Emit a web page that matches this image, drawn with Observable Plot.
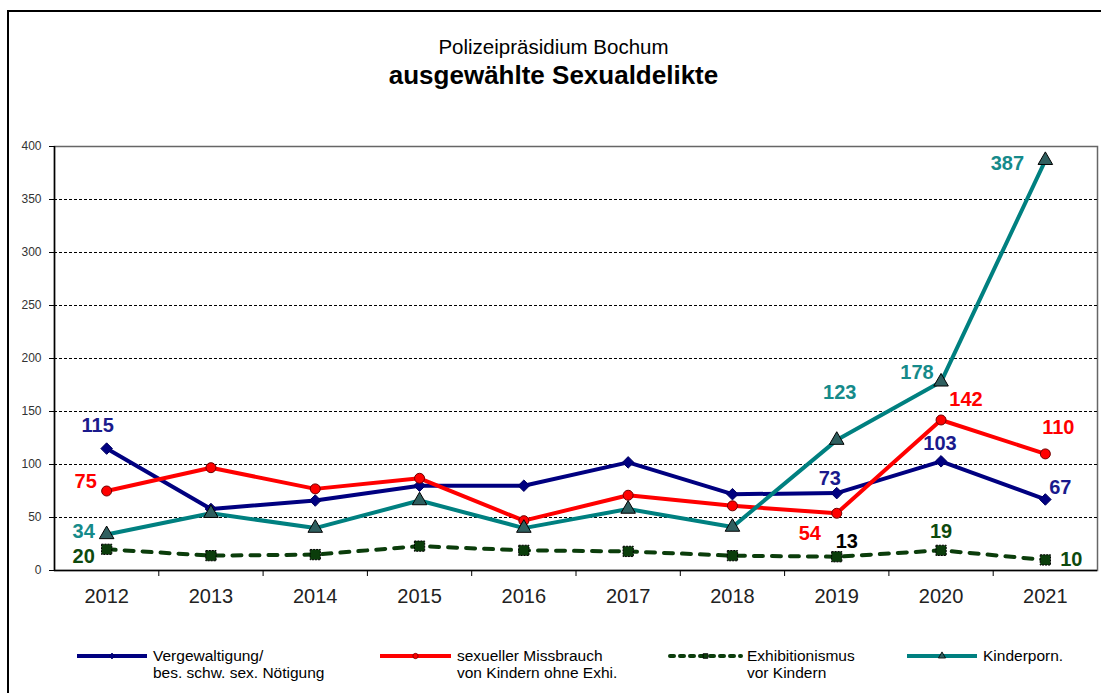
<!DOCTYPE html>
<html><head><meta charset="utf-8">
<script src="https://cdn.jsdelivr.net/npm/d3@7"></script>
<script src="https://cdn.jsdelivr.net/npm/@observablehq/plot@0.6"></script>
<style>
html,body{margin:0;padding:0;background:#fff}
body{width:1101px;height:693px;overflow:hidden;position:relative;font-family:"Liberation Sans",Arial,sans-serif}
#chart{position:absolute;left:0;top:0}
#frame{position:absolute;left:7px;top:10px;width:1200px;height:800px;border:2px solid #000;pointer-events:none}
.title{position:absolute;left:0;width:1107px;text-align:center;color:#000;white-space:nowrap}
#t1{top:35px;font-size:20.5px;line-height:24px}
#t2{top:60px;font-size:26px;line-height:30px;font-weight:bold}
.leg{position:absolute;top:647px;font-size:15.5px;line-height:17px;color:#000;white-space:pre}
.legsw{position:absolute;top:648px}
</style></head>
<body>
<div id="chart"></div>
<div class="title" id="t1">Polizeipräsidium Bochum</div>
<div class="title" id="t2">ausgewählte Sexualdelikte</div>
<div id="legend"></div>
<div id="frame"></div>
<script>
// ---- data ----
const years = [2012, 2013, 2014, 2015, 2016, 2017, 2018, 2019, 2020, 2021];
const vergewaltigung = [115, 58, 66, 80, 80, 102, 72, 73, 103, 67];
const missbrauch = [75, 97, 77, 87, 47, 71, 61, 54, 142, 110];
const exhibitionismus = [20, 14, 15, 23, 19, 18, 14, 13, 19, 10];
const kinderporn = [34, 54, 40, 66, 40, 58, 41, 123, 178, 387];
const seriesKeys = ["v", "m", "e", "k"];
const seriesNames = [
  "Vergewaltigung/\nbes. schw. sex. Nötigung",
  "sexueller Missbrauch\nvon Kindern ohne Exhi.",
  "Exhibitionismus\nvor Kindern",
  "Kinderporn."
];
const yTicks = [0, 50, 100, 150, 200, 250, 300, 350, 400];
// points that carry a value label: [series, year]
const labelled = [
  ["v", 2012], ["m", 2012], ["k", 2012], ["e", 2012],
  ["k", 2019], ["k", 2020], ["k", 2021],
  ["m", 2019], ["m", 2020], ["m", 2021],
  ["v", 2019], ["v", 2020], ["v", 2021],
  ["e", 2019], ["e", 2020], ["e", 2021]
];

// ---- styles ----
const values = {v: vergewaltigung, m: missbrauch, e: exhibitionismus, k: kinderporn};
const style = {
  v: {stroke: "#000080", symbol: "diamond2", r: 5.2, fill: "#000080", mstroke: "#000060", label: "#1a1a8c"},
  m: {stroke: "#ff0000", symbol: "circle", r: 5, fill: "#ff0000", mstroke: "#700000", label: "#ff0000"},
  e: {stroke: "#0b3d0b", symbol: "square", r: 5.8, fill: "#0b3d0b", mstroke: "#000", label: "#0e4a0e", dash: "9,9"},
  k: {stroke: "#008080", symbol: "triangle", r: 5.4, fill: "#2f5f5f", mstroke: "#000", label: "#158a8a"}
};
const labelOffsets = {
  "v2012": [-9, -23], "m2012": [-21, -9], "k2012": [-23, -3], "e2012": [-23, 7],
  "k2019": [3, -48], "k2020": [-24, -9], "k2021": [-38, 3],
  "m2019": [-27, 20], "m2020": [25, -20], "m2021": [13, -26],
  "v2019": [-7, -15], "v2020": [-1, -18], "v2021": [15, -12],
  "e2019": [10, -15], "e2020": [0, -19], "e2021": [26, 0]
};
const labelColorOverride = {"e2019": "#000"};

const rows = [];
for (const s of ["v", "m", "e", "k"]) years.forEach((y, i) => rows.push({s, year: y, value: values[s][i]}));

const seriesMarks = [];
for (const s of ["v", "m", "e", "k"]) {
  const st = style[s];
  const d = rows.filter(r => r.s === s);
  seriesMarks.push(Plot.line(d, {x: "year", y: "value", stroke: st.stroke, strokeWidth: 4,
    strokeDasharray: st.dash, strokeLinecap: st.dash ? "round" : "butt", strokeLinejoin: "miter"}));
  seriesMarks.push(Plot.dot(d, {x: "year", y: "value", symbol: st.symbol, r: st.r,
    fill: st.fill, stroke: st.mstroke, strokeWidth: 1, strokeDasharray: s === "e" ? "2,1" : null}));
}

const labelMarks = labelled.map(([s, y]) => {
  const key = s + y;
  const [dx, dy] = labelOffsets[key];
  const d = rows.filter(r => r.s === s && r.year === y);
  return Plot.text(d, {x: "year", y: "value", text: r => String(r.value), dx, dy,
    fill: labelColorOverride[key] || style[s].label, fontWeight: "bold", fontSize: 20,
    fontFamily: "Liberation Sans, Arial, sans-serif"});
});

const chart = Plot.plot({
  width: 1101, height: 693,
  marginLeft: 54, marginRight: 4, marginTop: 146, marginBottom: 123,
  style: {background: "transparent", fontFamily: "Liberation Sans, Arial, sans-serif"},
  x: {type: "linear", domain: [2011.5, 2021.5]},
  y: {domain: [0, 400]},
  marks: [
    Plot.frame({stroke: "#666", strokeWidth: 1.5}),
    Plot.ruleY(yTicks.filter(t => t > 0 && t < 400), {stroke: "#000", strokeWidth: 1, strokeDasharray: "3,2"}),
    Plot.axisY({ticks: yTicks, tickSize: 5, tickPadding: 8, tickFormat: d => String(d), fontSize: 12,
      fill: "#333", stroke: "#000", label: null, style: {letterSpacing: "1px"}}),
    Plot.axisX({ticks: years.slice(0, -1).map(y => y + 0.5), tickSize: 6, tickFormat: () => "", label: null, stroke: "#000"}),
    Plot.axisX({ticks: years, tickSize: 0, tickPadding: 18, tickFormat: d => String(d), fontSize: 20, fill: "#222", label: null}),
    Plot.ruleX([2011.5], {stroke: "#000", strokeWidth: 1.5}),
    Plot.ruleY([0], {stroke: "#000", strokeWidth: 1.5}),
    ...seriesMarks,
    ...labelMarks
  ]
});
document.getElementById("chart").appendChild(chart);

// ---- legend ----
const legendPos = [[77, 153], [380, 457], [670, 747], [907, 983]];
const legend = document.getElementById("legend");
seriesKeys.forEach((s, i) => {
  const st = style[s];
  const [sx, tx] = legendPos[i];
  const w = tx - sx - 6;
  const svgNS = "http://www.w3.org/2000/svg";
  const svg = document.createElementNS(svgNS, "svg");
  svg.setAttribute("width", w + 4); svg.setAttribute("height", 16);
  svg.setAttribute("class", "legsw");
  svg.style.left = (sx - 2) + "px";
  const sel = d3.select(svg);
  sel.append("line").attr("x1", 2).attr("x2", w + 2).attr("y1", 8).attr("y2", 8)
    .attr("stroke", st.stroke).attr("stroke-width", 4)
    .attr("stroke-dasharray", st.dash ? "4,6" : null).attr("stroke-linecap", st.dash ? "round" : "butt");
  const sym = {diamond2: d3.symbolDiamond2, circle: d3.symbolCircle, square: d3.symbolSquare, triangle: d3.symbolTriangle}[st.symbol];
  sel.append("path").attr("transform", `translate(${2 + w / 2},8)`)
    .attr("d", d3.symbol(sym, 22)()).attr("fill", st.fill).attr("stroke", st.mstroke).attr("stroke-width", 0.8);
  legend.appendChild(svg);
  const div = document.createElement("div");
  div.className = "leg"; div.style.left = tx + "px";
  div.textContent = seriesNames[i];
  legend.appendChild(div);
});
</script>
</body></html>
